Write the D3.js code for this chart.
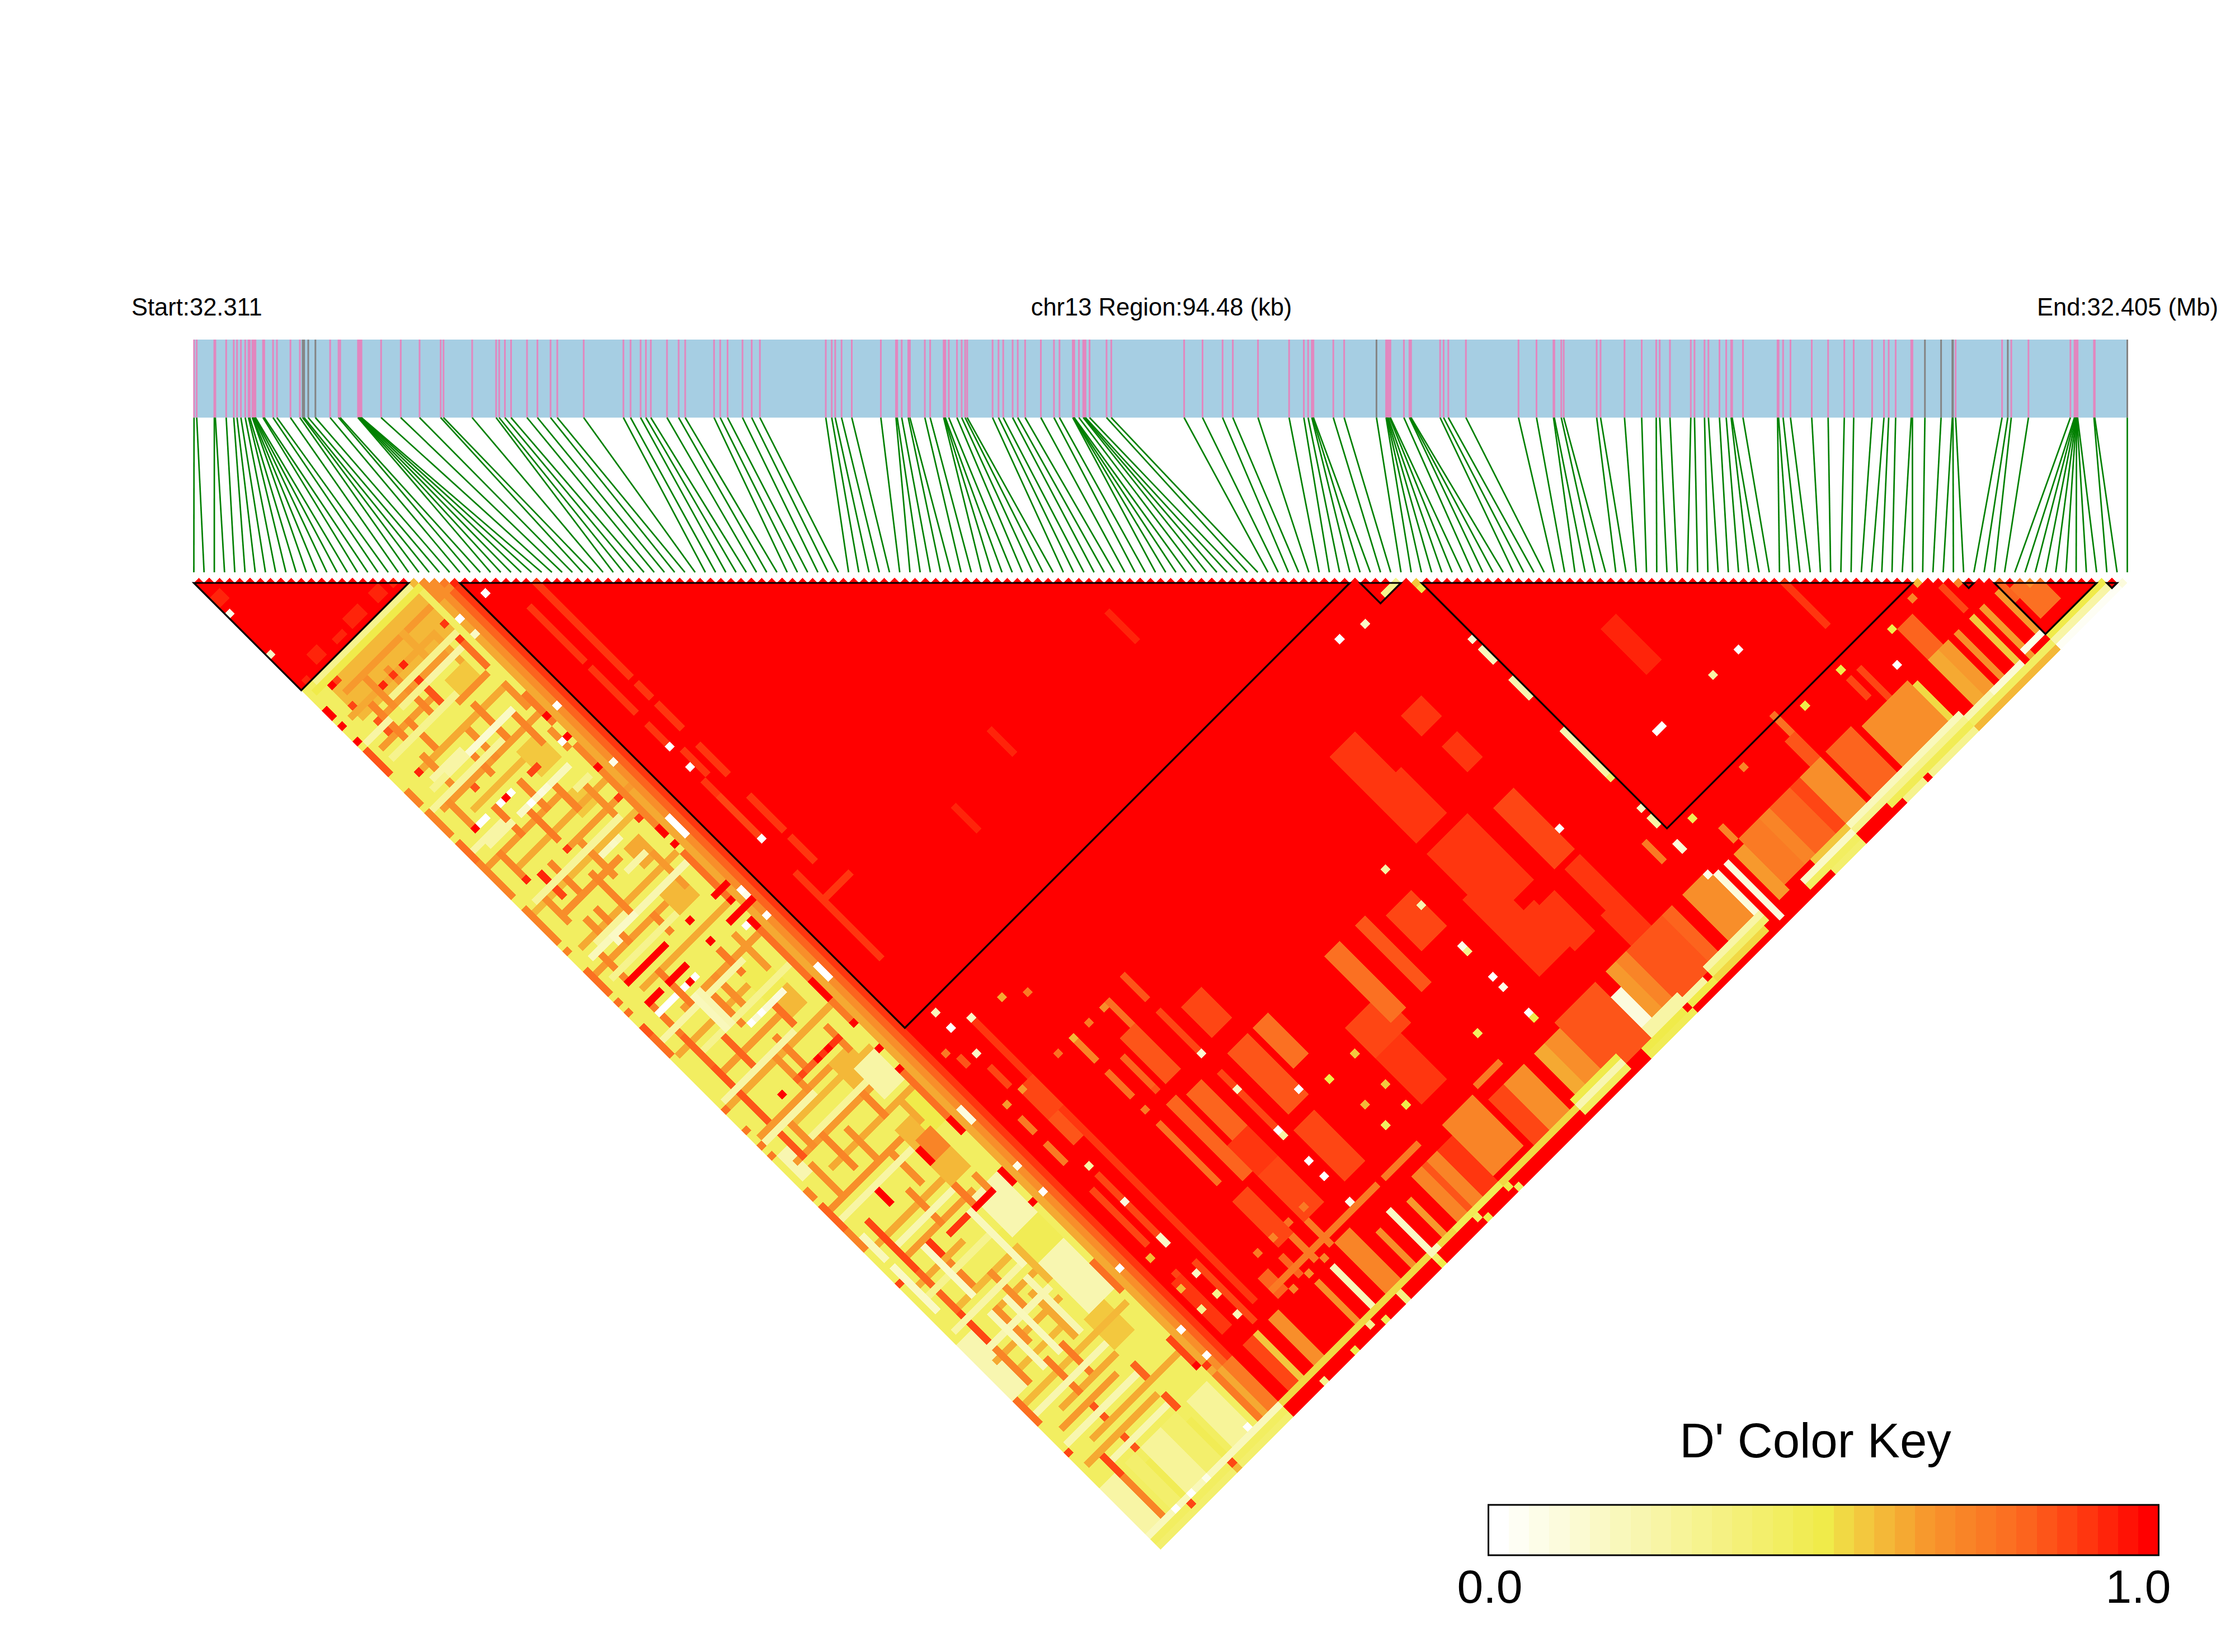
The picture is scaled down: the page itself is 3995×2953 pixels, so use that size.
<!DOCTYPE html>
<html>
<head>
<meta charset="utf-8">
<title>chr13 LD heatmap</title>
<script src="https://cdn.jsdelivr.net/npm/d3@7"></script>
<style>
    body { margin: 0; background: #fff; }
    text { font-family: "Liberation Sans", Arial, sans-serif; fill: #000; }
</style>
</head>
<body>
<div id="chart"></div>
<script>
//snp positions in kb from the region start
const snpKb = [
    0.01,0.14,1.00,1.05,1.58,1.95,2.11,2.30,2.51,2.67,2.73,2.86,2.88,2.93,2.97,3.01,3.38,3.44,3.87,4.06,
    4.72,5.18,5.32,5.39,5.59,5.94,6.66,7.07,7.15,8.02,8.05,8.08,8.12,8.16,8.19,9.15,10.11,11.03,12.06,12.20,
    13.60,14.77,14.92,15.20,15.50,16.28,16.79,17.43,17.76,19.05,20.99,21.34,21.83,22.09,22.33,23.12,23.69,24.01,25.42,25.72,
    26.08,26.81,27.26,27.66,30.88,31.17,31.34,31.65,32.15,33.57,34.31,34.37,34.59,34.91,34.99,35.72,35.98,36.64,36.68,36.72,
    36.89,37.29,37.52,37.69,37.79,39.03,39.32,39.55,40.01,40.26,40.62,41.39,42.03,42.30,42.95,42.98,42.99,43.02,43.25,43.46,
    43.51,43.57,43.77,44.60,44.83,48.39,49.29,50.27,50.77,52.00,53.52,54.24,54.45,54.63,54.67,54.71,55.68,56.21,57.79,58.26,
    58.29,58.32,58.36,58.43,58.47,59.13,59.40,59.44,59.48,60.90,61.07,61.30,62.16,64.73,65.61,66.44,66.48,66.82,66.94,68.55,
    68.74,69.91,70.75,71.46,71.63,72.13,73.15,73.33,73.82,74.01,74.55,74.88,75.12,75.17,75.70,77.39,77.44,77.66,78.02,79.06,
    79.86,80.65,81.11,82.01,82.59,82.82,83.16,83.92,83.98,84.59,85.38,85.93,85.96,86.09,88.36,88.64,88.81,89.65,91.70,91.90,
    91.93,91.96,91.98,91.99,92.00,92.02,92.05,92.85,92.89,94.48
];
//the ticks drawn grey in the bar
const greyKb = [5.32,5.39,5.59,5.94,57.79,84.59,85.38,85.93,85.96,88.64,94.48];

//LD blocks, first and last snp index
const blocks = [[0,21],[26,113],[114,118],[120,168],[173,174],[176,186],[187,188]];

//D' x 100, everything not listed below is 100. all estimates by eye from the picture
//[i0, i1, j0, j1, value]
const bandZones = [
    [0,25,22,189,44],[25,25,27,189,92],[24,24,27,189,82],[23,23,27,189,70],[22,22,27,189,64],
    [22,25,23,26,70],[3,20,24,30,58],[4,5,32,35,84],
    [15,18,35,38,56],[15,18,49,53,56],[15,18,58,61,56],[15,18,76,80,58],[16,18,69,72,64],[15,18,92,98,46],
    [16,18,98,101,60],[15,18,110,114,58],[15,17,123,127,58],[18,20,121,126,50],[15,18,129,133,58],[16,18,126,129,72],
    [15,20,143,150,46],[16,20,137,144,22],[16,20,150,159,22],[17,20,113,118,25],[15,18,160,165,56],[17,20,178,186,28],
    [0,2,150,160,22],[1,2,114,118,22],[0,2,178,187,25],[8,11,178,186,28],[5,6,178,186,40],[12,14,178,186,42],
    [22,25,178,187,76],[23,23,178,186,64]
];
//amber columns under the rows, [j, i0, i1, value]
const amberCols = [
    [26,4,20,66],[29,2,18,62],[32,6,18,66],[35,2,12,66],[38,14,19,70],[41,4,20,62],
    [47,2,20,66],[50,5,14,60],[57,1,14,66],[60,4,20,62],[63,11,22,66],[66,1,20,60],[69,4,14,68],[74,2,20,64],
    [78,1,14,66],[84,4,20,62],[90,6,20,66],[94,1,14,62],[100,4,14,66],[104,1,20,62],[110,1,14,66],[112,6,20,60],
    [116,2,16,66],[120,5,20,62],[124,1,14,68],[132,1,14,62],[136,4,16,66],[140,1,10,62],[146,4,14,60],[150,6,14,62],
    [155,2,14,64],[158,4,12,58],[162,1,20,60],[166,4,14,62],[168,2,12,66],[172,4,20,64],[174,1,14,62]
];
//[i, j0, j1, value]
const bandRows = [
    [0,26,27,100],[0,29,29,100],[0,32,32,100],[0,34,38,84],[0,42,44,72],[0,46,50,72],[0,52,55,78],[0,56,62,72],
    [0,65,71,72],[0,73,73,72],[0,77,81,78],[0,83,83,78],[0,85,85,78],[0,88,89,85],[0,90,93,78],[0,104,104,78],
    [0,108,108,76],[0,111,111,76],[0,113,113,76],[0,120,121,72],[0,123,127,80],[0,128,131,72],[0,138,138,88],
    [0,161,165,78],[0,171,171,86],
    [3,24,24,100],[3,28,28,88],[3,41,41,95],[3,46,51,70],[3,57,61,72],[3,62,62,95],[3,66,70,70],[3,76,81,72],
    [3,87,92,76],[3,93,98,80],[3,99,109,85],[3,112,116,85],[3,118,123,70],[3,129,138,88],[3,139,147,80],[3,147,153,86],
    [3,154,160,72],[3,175,179,86],[3,179,187,72],
    [5,30,36,72],[5,40,45,70],[5,63,64,95],[5,66,67,88],[5,72,76,68],[5,112,116,68],
    [7,27,32,68],[7,35,40,72],[7,48,48,85],[7,52,57,74],[7,63,68,72],[7,72,78,72],[7,84,90,76],[7,97,102,80],
    [7,108,108,100],[7,115,122,72],[7,127,129,100],[7,137,139,90],[7,141,145,72],[7,150,156,70],[7,160,166,76],
    [7,169,171,84],[7,175,177,84],[7,180,186,48],
    [10,28,32,70],[10,34,37,72],[10,44,48,72],[10,56,61,74],[10,63,63,90],[10,68,75,72],[10,82,82,100],[10,86,86,100],
    [10,92,97,72],[10,104,110,70],[10,118,123,70],[10,130,136,72],[10,146,152,70],[10,160,165,76],
    [12,29,29,95],[12,32,32,90],[12,33,37,84],[12,42,47,68],[12,52,57,72],[12,64,70,70],[12,78,81,72],[12,90,96,68],
    [12,102,107,72],[12,125,130,70],[12,152,160,64],
    [15,26,30,62],[15,40,43,72],[15,45,46,72],[15,52,52,88],[15,56,60,72],[15,82,82,100],[15,86,86,100],[15,88,92,74],
    [15,98,102,78],[15,115,120,72],[15,127,129,100],[15,134,137,74],[15,146,152,60],[15,169,171,80],[15,175,177,84],[15,180,187,48],
    [18,30,34,64],[18,44,50,72],[18,58,64,70],[18,72,78,66],[18,88,94,66],[18,106,110,72],[18,120,124,64],[18,135,137,68],
    [20,29,29,90],[20,32,32,90],[20,33,37,78],[20,41,45,70],[20,50,53,70],[20,63,63,90],[20,67,67,90],
    [21,44,49,74],[21,54,69,72],[21,70,71,100],[21,73,73,100],[21,75,83,78],[21,84,84,100],[21,88,89,100],[21,90,99,78],
    [21,100,103,100],[21,104,107,76],[21,108,108,100],[21,113,113,100],[21,117,117,100],[21,118,126,78],[21,127,129,100],
    [21,137,139,100],[21,143,143,100],[21,155,160,78],[21,170,174,86],[21,175,175,100]
];
//pale and red columns and pale rows over the rows, they break the orange runs
const crossCols = [
    [22,2,21,30],[23,1,21,50],
    [31,8,20,30],[33,1,5,25],[33,8,12,30],[33,13,19,26],[37,2,14,30],[43,4,9,25],[44,3,6,30],[44,6,9,25],[44,10,14,12],[44,15,18,15],
    [46,1,14,28],[54,1,6,25],[55,3,7,25],[55,9,14,16],[55,15,18,18],[58,17,19,30],[65,2,18,28],[67,13,16,18],[71,14,17,25],
    [75,4,9,28],[76,2,5,18],[76,6,10,15],[76,11,14,22],[76,15,20,22],[80,2,14,30],[91,1,16,25],[96,4,20,30],[103,1,14,25],
    [111,1,10,25],[115,6,16,28],[126,1,14,25],[134,4,14,22],[142,2,14,30],[148,1,14,25],[153,1,14,22],[164,1,14,22],[170,1,14,22],[176,4,14,22],
    [52,4,5,0],[52,3,3,100],[82,20,22,100],[82,7,9,100],[82,3,6,100],
    [86,19,23,100],[86,7,9,100],[86,3,5,100],[88,3,6,0],[98,11,15,14],[98,16,17,10],[108,15,18,90],[108,10,13,80],
    [138,15,18,100],[138,10,13,90],[187,0,25,20],[188,0,25,45],[189,0,25,40]
];
const paleRows = [
    [8,90,96,20],[9,90,96,22],[6,137,146,15],[14,138,148,18],[1,130,134,20],[1,136,144,15],[6,150,160,18],[9,150,160,20],[13,150,160,22]
];
//darker patches and thin streaks inside the red part
const redZones = [
    [16,17,19,20,93],[19,19,20,20,94],[11,13,19,20,93],[8,9,20,20,93],[4,5,19,20,93],[1,1,21,21,93],[0,1,4,5,93],
    [30,30,36,38,90],[30,30,39,42,91],[30,30,42,46,91],[30,30,48,52,90],[30,30,53,56,90],[30,30,59,62,90],[31,31,65,69,90],
    [30,30,70,72,91],[30,30,73,80,89],[33,33,33,37,91],[33,33,38,41,91],[33,33,42,48,92],[33,33,48,52,91],[33,33,54,56,92],
    [33,33,58,62,91],[33,33,66,71,91],[33,33,76,82,91],[33,33,84,88,91],[30,30,88,104,92],[30,35,93,93,90],
    [52,52,97,101,94],[86,86,93,98,94],[63,63,93,97,95],
    [33,33,119,174,92],[31,32,136,141,84],[28,28,139,142,74],[28,28,122,123,84],[30,30,126,129,86],[31,33,131,136,88],[28,28,134,136,76],
    [28,28,148,158,86],[30,30,147,158,88],[28,28,164,174,88],[31,31,165,176,88],
    [41,41,132,135,72],[48,48,131,135,78],[41,41,138,142,78],[44,44,138,143,80],[46,48,136,144,84],[52,52,130,134,84],[52,52,137,144,86],
    [41,41,148,159,78],[44,45,147,161,80],[47,49,148,160,82],[52,52,149,160,88],[55,58,148,159,84],[60,62,148,155,78],
    [54,57,162,171,88],[46,49,162,171,88],[41,43,163,171,86],[46,49,157,162,90],[69,72,157,162,88],[72,75,157,162,86],
    [55,58,139,144,88],[69,73,163,171,90],[27,28,165,174,90],
    [36,37,173,176,80],[40,40,173,176,80],[43,43,172,176,74],[46,46,172,176,76],
    [94,99,137,145,91],[106,108,139,143,91],[94,98,129,136,90],[94,101,148,160,90],[93,97,156,164,91],[93,99,163,170,91],
    [84,88,150,156,89],[80,81,148,160,84],[74,76,148,160,78],[106,108,163,170,90],[105,108,171,176,90],[99,102,164,171,90],
    [105,108,150,156,88],[105,108,157,161,89],[105,108,132,135,90],[133,135,143,151,93],[155,155,156,164,92],
    [152,152,172,175,88],[162,164,172,178,80],[170,170,172,176,88],[141,141,168,172,78],[154,154,172,178,88],
    [140,141,172,176,85],[133,133,170,170,72],[125,125,174,176,72],[116,116,168,171,76]
];
//stripes along the right hand edge
const edgeBands = [
    [28,29,178,186,88],[30,30,178,187,56],[33,34,178,186,68],[41,41,179,187,68],[44,44,179,187,18],[47,49,177,186,72],
    [52,52,180,187,70],[55,55,179,187,15],[58,58,180,186,66],[61,65,178,187,72],[63,63,178,187,84],[66,68,178,186,90],
    [69,74,176,185,72],[76,78,178,186,88],[79,82,178,186,68],[85,86,178,186,62],[87,89,178,186,70],[90,97,177,187,84],
    [98,99,180,188,10],[100,101,177,186,66],[102,103,177,186,72],[104,110,177,186,84],[111,112,177,185,80],[115,119,177,185,70],
    [120,120,178,187,8],[122,122,178,188,8],[124,125,178,186,66],[126,129,177,185,76],[130,131,177,185,72],[132,135,177,185,82],
    [136,137,177,185,88],[138,141,177,185,70],[143,147,177,185,82],[149,157,178,185,70],[158,158,179,187,54],
    [162,163,178,186,62],[164,165,178,186,66],[167,167,178,187,70],[170,170,178,187,56],[172,172,178,187,66],[175,175,178,186,66],
    [176,176,177,180,80],[177,180,179,184,78],[176,186,187,187,50],[176,186,188,188,25],[176,188,189,189,4]
];
//[j, i0, i1, value]
const edgeCols = [
    [175,36,56,76],[175,58,64,74],[175,76,80,74],
    [187,26,55,54],[187,55,56,20],[187,57,60,54],[187,60,68,46],[187,69,83,54],[186,84,92,50],[187,84,92,22],[188,84,92,45],
    [186,98,104,24],[187,98,108,24],[188,96,110,50],[189,96,104,48],[186,110,120,25],[187,110,120,40],
    [188,110,119,52],[187,124,127,100],[188,124,127,100],[186,131,137,55],[187,128,137,15],[188,128,137,45],[189,132,137,40],
    [186,138,159,18],[187,138,160,30],[188,144,160,48],[189,146,160,30],[186,172,175,5],[187,165,170,12],[187,160,164,22],
    [188,160,175,45],[189,160,175,60]
];
//single cells [i, j, value]
const spots = [
    [0,7,5],[0,15,15],[27,30,0],[22,30,0],[22,33,15],[23,48,0],[21,48,100],[20,52,0],[21,52,100],[23,59,5],[21,58,100],
    [10,52,0],[8,52,0],[9,52,100],[11,55,0],[13,55,10],[14,55,12],[23,70,0],[23,71,0],[23,72,0],[23,73,0],[21,82,100],
    [23,84,0],[23,85,5],[23,89,0],[20,88,0],[6,77,15],[10,88,0],[9,88,100],[8,88,0],[23,99,0],[23,100,0],[23,101,0],
    [13,98,0],[11,98,0],[21,101,100],[16,108,100],[14,108,100],[11,108,88],[15,67,15],[4,24,88],[8,29,95],[10,29,90],
    [14,52,88],[7,138,90],[23,127,10],[23,128,10],[23,129,10],[23,138,5],[23,143,0],[23,158,0],[23,170,0],[23,175,0],[22,176,90],
    [30,63,0],[30,67,0],[30,81,0],[30,115,20],[30,118,0],[33,119,15],[30,123,15],[30,145,25],[30,152,8],[30,159,15],[30,160,15],
    [30,166,15],[30,170,30],[30,174,20],[27,120,74],[38,120,62],[41,122,76],[41,131,60],[38,131,78],[47,131,70],[44,131,76],
    [28,131,66],[31,131,66],[27,160,60],[27,166,60],[27,170,30],[52,145,12],[52,152,15],[52,160,0],[52,161,25],[52,166,0],[52,169,0],
    [52,174,5],[58,158,0],[81,170,45],[67,160,56],[67,166,56],[67,170,50],[63,166,60],[63,170,45],[62,160,50],
    [41,145,76],[44,144,84],[38,170,76],[41,170,72],[44,170,78],[47,170,74],[44,177,72],[41,177,70],[38,177,72],
    [88,145,25],[88,152,22],[88,160,5],[88,161,30],[88,166,0],[88,168,5],[88,173,0],[88,174,50],
    [106,118,0],[110,119,15],[109,158,0],[115,118,30],[116,118,30],[117,118,30],[119,120,55],[119,121,50],[119,131,12],[119,133,20],
    [119,134,20],[119,135,20],[119,139,22],[119,140,22],[119,141,22],[119,142,22],[119,149,22],[119,150,22],[119,151,22],[119,152,25],
    [119,153,25],[119,154,25],[119,155,25],[119,156,25],[119,157,25],[119,158,40],[119,164,15],[119,166,25],[119,167,25],[119,171,10],
    [119,172,12],[119,177,5],[123,170,48],[128,158,0],[129,158,0],[139,158,25],[144,158,0],[145,170,50],[152,170,50],[158,175,0],
    [161,171,50],[166,170,72],[168,169,60],[172,173,72],[179,180,70],[186,187,50],[187,188,100],[188,189,8],
    [21,22,60],[22,23,70],[23,24,68],[24,25,74],[25,26,95],[5,187,0],[8,187,0],[11,187,5],[20,186,0],[7,188,88],[15,188,88],
    [15,189,60],[21,175,100],[150,189,100],[125,187,100],[104,188,100],[90,189,100],
    [32,189,30],[38,189,50],[42,188,30],[44,189,48],[48,188,35],[48,189,35],[55,188,40],[55,189,50],[63,188,45],[64,189,50],[69,188,50],[70,189,45]
];

//colour key, 33 steps between these stops
const keyStops = [0,0.5,0.55,0.66,0.8,0.9,1];
const keyColors = ["#ffffff","#f0eb4a","#f2ce40","#f7972c","#fc6a20","#ff3a10","#ff0000"];
const keySteps = 33;
const keyTicks = ["0.0","1.0"];

const width = 3995;
const height = 2953;

//values go in painting order, later lists sit on top of earlier ones
function buildMatrix(n) {
    const m = d3.range(n).map(() => new Array(n).fill(100));
    const fill = (i0, i1, j0, j1, v) => {
        for (let i = i0; i <= i1; i++)
            for (let j = Math.max(j0, i + 1); j <= Math.min(j1, n - 1); j++) m[i][j] = v;
    };
    bandZones.forEach((d) => fill(...d));
    amberCols.forEach(([j, i0, i1, v]) => fill(i0, i1, j, j, v));
    bandRows.forEach(([i, j0, j1, v]) => fill(i, i, j0, j1, v));
    crossCols.forEach(([j, i0, i1, v]) => fill(i0, i1, j, j, v));
    paleRows.forEach(([i, j0, j1, v]) => fill(i, i, j0, j1, v));
    redZones.forEach((d) => fill(...d));
    edgeBands.forEach((d) => fill(...d));
    edgeCols.forEach(([j, i0, i1, v]) => fill(i0, i1, j, j, v));
    spots.forEach(([i, j, v]) => fill(i, i, j, j, v));
    return m;
}

function draw() {
    const n = snpKb.length;
    const svg = d3.select("#chart").append("svg")
        .attr("width", width)
        .attr("height", height)
        .attr("viewBox", [0, 0, width, height]);

    //scales
    const barLeft = 346.5;
    const barRight = 3802.5;
    const xKb = d3.scaleLinear().domain([0, 94.48]).range([barLeft, barRight]);
    const xSnp = d3.scaleLinear().domain([0, n - 1]).range([barLeft, barRight]);
    const step = xSnp(1) - xSnp(0);
    const heatTop = 1042;
    const yGap = d3.scaleLinear().domain([1, n - 1]).range([heatTop, heatTop + ((n - 2) * step) / 2]);
    const keyColor = d3.scaleLinear().domain(keyStops).range(keyColors);
    const quant = (v) => keyColor(Math.round((v / 100) * (keySteps - 1)) / (keySteps - 1));

    //gene map bar
    svg.append("rect")
        .attr("x", barLeft).attr("y", 607)
        .attr("width", barRight - barLeft).attr("height", 139.5)
        .attr("fill", "#a6cee3");

    svg.selectAll("line.tick").data(snpKb).enter().append("line")
        .attr("class", "tick")
        .attr("x1", (d) => xKb(d)).attr("x2", (d) => xKb(d))
        .attr("y1", 607).attr("y2", 746.5)
        .attr("stroke", (d) => (greyKb.includes(d) ? "#848484" : "#e287bf"))
        .attr("stroke-width", 3);

    //connectors
    svg.selectAll("line.link").data(snpKb).enter().append("line")
        .attr("class", "link")
        .attr("x1", (d) => xKb(d)).attr("y1", 746.5)
        .attr("x2", (d, i) => xSnp(i)).attr("y2", 1023)
        .attr("stroke", "#008000")
        .attr("stroke-width", 2.7);

    //cells
    const matrix = buildMatrix(n);
    const cells = [];
    for (let i = 0; i < n; i++)
        for (let j = i + 1; j < n; j++) cells.push({ i, j, v: matrix[i][j] });

    svg.append("g").attr("shape-rendering", "crispEdges")
        .selectAll("path").data(cells).enter().append("path")
        .attr("d", (d) => {
            const cx = (xSnp(d.i) + xSnp(d.j)) / 2;
            const cy = yGap(d.j - d.i);
            const r = step / 2;
            return `M${cx},${cy - r}L${cx + r},${cy}L${cx},${cy + r}L${cx - r},${cy}Z`;
        })
        .attr("fill", (d) => quant(d.v));

    //block outlines
    svg.append("g").selectAll("path").data(blocks).enter().append("path")
        .attr("d", ([a, b]) => {
            const x0 = xSnp(a);
            const x1 = xSnp(b);
            return `M${x0},${heatTop}L${x1},${heatTop}L${(x0 + x1) / 2},${heatTop + (x1 - x0) / 2}Z`;
        })
        .attr("fill", "none")
        .attr("stroke", "#000")
        .attr("stroke-width", 3.2)
        .attr("stroke-linejoin", "miter");

    //top labels
    const top = svg.append("g").attr("font-size", 43.5);
    top.append("text").attr("x", 235).attr("y", 564).text("Start:32.311");
    top.append("text").attr("x", 2076).attr("y", 564).attr("text-anchor", "middle").text("chr13 Region:94.48 (kb)");
    top.append("text").attr("x", 3965).attr("y", 564).attr("text-anchor", "end").text("End:32.405 (Mb)");

    //colour key
    const xKey = d3.scaleLinear().domain([0, keySteps]).range([2660.5, 3858.5]);
    svg.append("g").attr("shape-rendering", "crispEdges")
        .selectAll("rect").data(d3.range(keySteps)).enter().append("rect")
        .attr("x", (d) => xKey(d)).attr("y", 2690)
        .attr("width", xKey(1) - xKey(0) + 0.5).attr("height", 90)
        .attr("fill", (d) => keyColor(d / (keySteps - 1)));
    svg.append("rect")
        .attr("x", 2660.5).attr("y", 2690)
        .attr("width", 1198).attr("height", 90)
        .attr("fill", "none").attr("stroke", "#000").attr("stroke-width", 3);

    svg.append("text").attr("x", 3245).attr("y", 2605)
        .attr("font-size", 87).attr("text-anchor", "middle").text("D' Color Key");
    svg.selectAll("text.keytick").data(keyTicks).enter().append("text")
        .attr("class", "keytick")
        .attr("x", (d, i) => (i === 0 ? 2663 : 3822)).attr("y", 2865)
        .attr("font-size", 84).attr("text-anchor", "middle").text((d) => d);
}

draw();
</script>
</body>
</html>
